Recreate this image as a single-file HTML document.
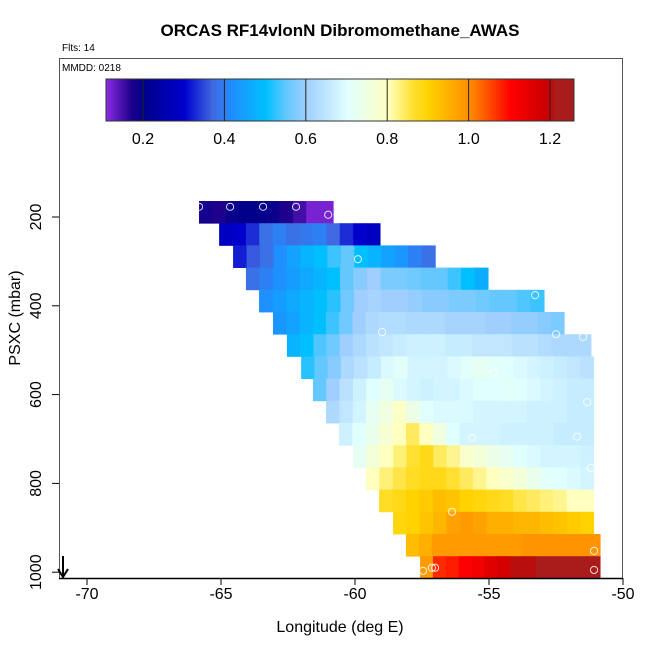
<!DOCTYPE html>
<html><head><meta charset="utf-8"><style>
body{margin:0;background:#fff;font-family:"Liberation Sans",sans-serif}
svg text{font-family:"Liberation Sans",sans-serif}
</style></head><body>
<svg id="chart" width="650" height="650" viewBox="0 0 650 650"></svg>
<script>
// ---- data ----
const rowTops=[164,214,264,314,364,414,464,514,564,614,664,714,764,814,864,914,964];
const rowStartLon=[-65.82,-65.07,-64.55,-64.07,-63.58,-63.06,-62.54,-62.01,-61.57,-61.08,-60.6,-60.07,-59.59,-59.1,-58.58,-58.1,-57.57];
const rowEndLon=[-60.82,-59.07,-57.01,-55.04,-52.95,-52.2,-51.2,-51.1,-51.1,-51.1,-51.1,-51.1,-51.1,-51.1,-51.1,-50.86,-50.86];
const rowValues=[
[0.18,0.17,0.19,0.2,0.2,0.19,0.17,0.15,0.12,0.12],
[0.28,0.3,0.33,0.38,0.4,0.38,0.39,0.4,0.37,0.33,0.3,0.28],
[0.32,0.36,0.38,0.42,0.45,0.48,0.5,0.53,0.55,0.5,0.48,0.45,0.43,0.4,0.38],
[0.38,0.4,0.42,0.44,0.46,0.48,0.5,0.55,0.58,0.6,0.57,0.57,0.56,0.55,0.55,0.53,0.5,0.47],
[0.42,0.44,0.46,0.48,0.5,0.52,0.56,0.6,0.61,0.6,0.6,0.59,0.58,0.58,0.57,0.57,0.56,0.55,0.55,0.54,0.53],
[0.43,0.45,0.48,0.5,0.53,0.56,0.6,0.62,0.63,0.63,0.62,0.62,0.62,0.61,0.61,0.61,0.6,0.6,0.59,0.59,0.58,0.57],
[0.48,0.5,0.54,0.56,0.6,0.62,0.64,0.65,0.66,0.67,0.67,0.67,0.66,0.66,0.65,0.65,0.65,0.64,0.64,0.63,0.62,0.62,0.62],
[0.52,0.55,0.58,0.62,0.64,0.66,0.69,0.71,0.68,0.68,0.68,0.69,0.71,0.72,0.71,0.7,0.69,0.68,0.67,0.66,0.65,0.64],
[0.55,0.6,0.64,0.67,0.7,0.72,0.69,0.68,0.67,0.68,0.68,0.69,0.7,0.7,0.71,0.7,0.69,0.68,0.67,0.66,0.66],
[0.62,0.65,0.68,0.72,0.75,0.79,0.74,0.7,0.69,0.69,0.69,0.68,0.68,0.68,0.68,0.67,0.67,0.67,0.66,0.66],
[0.67,0.7,0.73,0.77,0.8,0.84,0.8,0.75,0.7,0.68,0.68,0.68,0.67,0.67,0.67,0.67,0.66,0.66,0.66],
[0.72,0.76,0.8,0.83,0.86,0.88,0.84,0.82,0.78,0.76,0.74,0.72,0.7,0.69,0.68,0.68,0.68,0.67],
[0.8,0.83,0.85,0.87,0.88,0.88,0.86,0.84,0.82,0.8,0.78,0.76,0.73,0.71,0.7,0.69,0.68],
[0.87,0.88,0.9,0.91,0.93,0.92,0.9,0.89,0.88,0.87,0.85,0.84,0.83,0.82,0.8,0.8],
[0.89,0.9,0.92,0.94,0.97,0.98,0.97,0.95,0.95,0.94,0.94,0.93,0.92,0.91,0.9],
[0.93,0.95,0.98,0.98,0.98,0.98,0.98,0.98,0.98,0.99,0.99,0.99,0.99,0.99,0.99],
[0.98,1.07,1.08,1.1,1.12,1.15,1.17,1.2,1.2,1.22,1.24,1.25,1.26,1.26]
];
const rowHeight=50;
const ptLon=[-65.82,-64.66,-63.43,-62.2,-61.0,-59.89,-53.28,-58.99,-52.5,-51.49,-54.85,-51.34,-55.63,-51.72,-51.19,-56.38,-51.08,-57.46,-57.13,-57.01,-51.08];
const ptPres=[177,177,177,177,195,295,376,459,464,470,551,617,698,695,765,864,952,997,990,990,995];
const xTicks=[-70,-65,-60,-55,-50];
const yTicks=[200,400,600,800,1000];
const cbTicks=[0.2,0.4,0.6,0.8,1.0,1.2];
const cbMin=0.109, cbMax=1.256;

// ---- scales ----
const X=l=>87+(l+70)*26.8;
const Y=p=>217+(p-200)*0.444;
const CB=v=>143+(v-0.2)*407;

const stops=[[0.109,[138,43,226]],[0.17,[30,0,140]],[0.2,[0,0,139]],[0.3,[0,0,205]],[0.37,[65,105,225]],[0.42,[30,144,255]],[0.5,[0,191,255]],[0.55,[100,200,255]],[0.6,[160,207,255]],[0.7,[224,255,255]],[0.8,[255,255,192]],[0.86,[255,224,48]],[0.9,[255,210,0]],[1.0,[255,140,0]],[1.1,[255,0,0]],[1.19,[200,0,0]],[1.21,[170,28,28]],[1.26,[170,28,28]]];
function col(v){
  if(v<=stops[0][0])return 'rgb('+stops[0][1]+')';
  for(let i=1;i<stops.length;i++){if(v<=stops[i][0]){const a=stops[i-1],b=stops[i];const t=(v-a[0])/(b[0]-a[0]);
    return 'rgb('+a[1].map((c,k)=>Math.round(c+(b[1][k]-c)*t)).join(',')+')';}}
  return 'rgb('+stops[stops.length-1][1]+')';
}
const svg=document.getElementById('chart');const NS='http://www.w3.org/2000/svg';
function el(t,a,p){const e=document.createElementNS(NS,t);for(const k in a)e.setAttribute(k,a[k]);(p||svg).appendChild(e);return e;}

// title
let t=el('text',{x:340,y:36,'text-anchor':'middle','font-size':17,'font-weight':'bold'});t.textContent='ORCAS RF14vlonN Dibromomethane_AWAS';


t=el('text',{x:62,y:51,'font-size':10});t.textContent='Flts: 14';



// heatmap
const hm=el('g',{});


rowValues.forEach((vals,r)=>{
  const w=(rowEndLon[r]-rowStartLon[r])/vals.length;
  vals.forEach((v,i)=>{
    const x0=X(rowStartLon[r]+i*w),x1=X(rowStartLon[r]+(i+1)*w);
    const y0=Y(rowTops[r]),y1=Y(rowTops[r]+rowHeight);
    const c=el('rect',{x:x0,y:y0,width:x1-x0+0.6,height:y1-y0+0.4,fill:col(v)},hm);
    
    
  });
});
// points
ptLon.forEach((l,i)=>{
  const c=el('circle',{cx:X(l),cy:Y(ptPres[i]),r:3.6,fill:'none',stroke:'#fff','stroke-width':1,opacity:0.85});
  
  
});

// plot box
const box=el('rect',{x:59.5,y:58.5,width:563,height:520,fill:'none',stroke:'#555','stroke-width':1});


el('line',{x1:59,y1:578.5,x2:623,y2:578.5,stroke:'#000','stroke-width':1.5});
t=el('text',{x:62,y:71,'font-size':10});t.textContent='MMDD: 0218';



// colorbar
const cb=el('g',{});


for(let px=106;px<574;px++){
  const v=cbMin+(px-106)/(574-106)*(cbMax-cbMin);
  el('rect',{x:px,y:79,width:1.2,height:42,fill:col(v)},cb);
}
el('rect',{x:106,y:79,width:468,height:42,fill:'none',stroke:'#333','stroke-width':1},cb);
cbTicks.forEach(v=>{
  el('line',{x1:CB(v),y1:79,x2:CB(v),y2:121,stroke:'#222','stroke-width':1},cb);
  const tt=el('text',{x:CB(v),y:144,'text-anchor':'middle','font-size':16},cb);tt.textContent=v.toFixed(1);
  
  
});

// axes
xTicks.forEach(v=>{
  el('line',{x1:X(v),y1:578,x2:X(v),y2:585,stroke:'#000'});
  const tt=el('text',{x:X(v),y:599,'text-anchor':'middle','font-size':16});tt.textContent=v;
  
  
});
yTicks.forEach(v=>{
  el('line',{x1:52,y1:Y(v),x2:59,y2:Y(v),stroke:'#000'});
  const tt=el('text',{x:0,y:0,'text-anchor':'middle','font-size':16,transform:`translate(41,${Y(v)}) rotate(-90)`});tt.textContent=v;
  
  
});
t=el('text',{x:340,y:632,'text-anchor':'middle','font-size':16});t.textContent='Longitude (deg E)';


t=el('text',{x:0,y:0,'text-anchor':'middle','font-size':16,transform:'translate(20,318) rotate(-90)'});t.textContent='PSXC (mbar)';



// arrow
const ar=el('g',{stroke:'#000','stroke-width':2,fill:'none'});


el('line',{x1:63,y1:556,x2:63,y2:576},ar);
el('polyline',{points:'58,569 63,577 68,569'},ar);
</script>
</body></html>
